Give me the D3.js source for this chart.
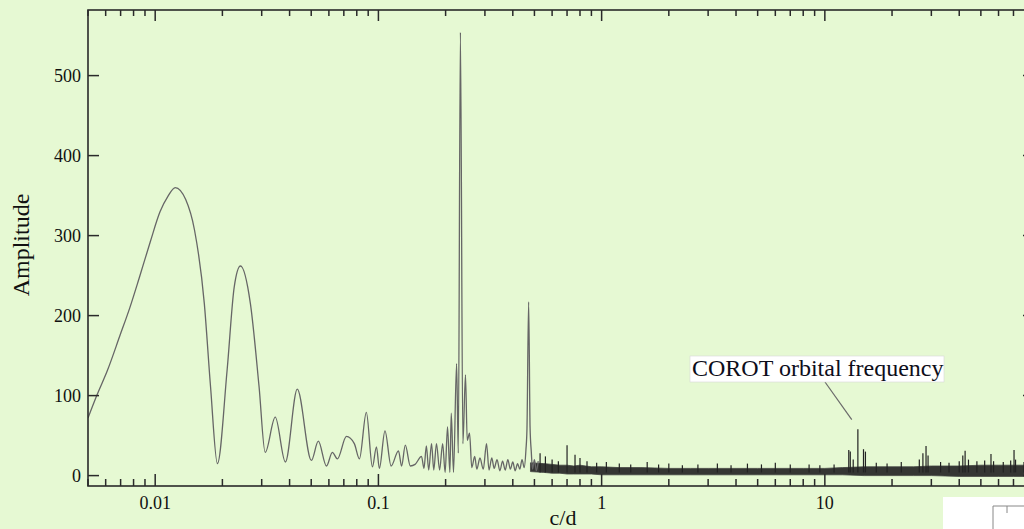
<!DOCTYPE html>
<html>
<head>
<meta charset="utf-8">
<script src="https://cdn.jsdelivr.net/npm/d3@7"></script>
<style>
html, body { margin: 0; padding: 0; background: #e6f9d3; overflow: hidden; }
svg { display: block; font-family: "Liberation Serif", "Times New Roman", serif; }
</style>
</head>
<body>
<svg id="chart" width="1024" height="529"></svg>
<script>
// smooth part of the periodogram (c/d, amplitude)
const lineFreq = [0.005, 0.00549, 0.0061, 0.00697, 0.0077, 0.00848, 0.0095, 0.01052, 0.0114, 0.0123,
  0.0137, 0.0150, 0.0166, 0.0177, 0.0190, 0.0210,
  0.0226, 0.0241, 0.0267, 0.0292, 0.0311, 0.0345, 0.0383, 0.0433, 0.0501, 0.0538,
  0.0585, 0.0622, 0.0655, 0.0719, 0.0780, 0.0822, 0.0883, 0.094, 0.098, 0.101,
  0.107, 0.114, 0.123, 0.127, 0.132, 0.139, 0.146, 0.156, 0.160, 0.164,
  0.168, 0.173, 0.177, 0.182, 0.188, 0.194, 0.199, 0.204, 0.209, 0.212,
  0.217, 0.224, 0.228, 0.233, 0.239, 0.2455, 0.250, 0.256, 0.262, 0.270,
  0.276, 0.285, 0.295, 0.305, 0.313, 0.322, 0.330, 0.340, 0.350, 0.360,
  0.370, 0.380, 0.390, 0.400, 0.410, 0.420, 0.430, 0.440, 0.450, 0.458,
  0.463, 0.471, 0.478, 0.484, 0.490, 0.500, 0.510, 0.520];
const lineAmp = [72, 101, 131, 176, 210, 247, 292, 330, 349, 360,
  345, 307, 215, 111, 15, 132,
  236, 262, 215, 111, 29, 73, 17, 108, 19, 43,
  12, 29, 21, 49, 40, 21, 79, 11, 36, 9,
  56, 12, 31, 12, 38, 12, 14, 24, 9, 37,
  7, 40, 7, 40, 7, 40, 4, 61, 4, 78,
  4, 140, 28, 554, 40, 126, 44, 53, 10, 24,
  8, 22, 8, 40, 7, 22, 9, 20, 6, 18,
  7, 20, 8, 17, 6, 15, 8, 20, 10, 32,
  59, 217, 60, 30, 8, 20, 6, 18];

// dense noise band at high frequency: lower and upper edge
const noiseFreq = [0.48, 0.55, 0.6, 0.65, 0.7, 0.75, 0.8, 0.9, 1.0, 1.2, 1.5, 2, 2.5, 3, 4,
  5, 6, 8, 10, 12, 15, 20, 25, 30, 40, 50, 60, 70, 86.5];
const noiseHi = [16, 15, 14, 13, 13, 12, 13, 11, 11, 10, 10, 9, 9, 9, 9,
  9, 9, 9, 9, 10, 11, 11, 11, 12, 12, 13, 13, 13, 13];
const noiseLo = [5, 4, 3, 3, 2, 2, 2, 2, 1, 1, 1, 1, 1, 1, 1,
  1, 1, 1, 1, 1, 0, 0, 0, 0, -1, -1, -1, -1, -1];

// single spikes sticking out of the band
const spikeFreq = [0.53, 0.56, 0.6, 0.64, 0.70, 0.76, 0.80, 0.86, 0.95, 1.05, 1.2, 1.35, 1.6, 1.8,
  2.0, 2.3, 2.7, 3.3, 3.8, 4.5, 5.2, 6.0, 7.0, 8.5, 9.5, 11, 12.8, 13.0, 13.4, 14.06,
  14.9, 15.2, 17, 19, 22, 26.5, 27.5, 28.4, 29, 33, 36, 40, 41.5, 42.5, 44, 48,
  52, 55.5, 57, 63, 68, 70.4, 71.5, 78, 84];
const spikeAmp = [28, 24, 20, 18, 38, 26, 22, 18, 16, 17, 15, 14, 17, 14,
  15, 13, 14, 15, 13, 15, 14, 16, 14, 14, 13, 14, 32, 30, 20, 58,
  33, 30, 16, 15, 17, 20, 28, 37, 25, 17, 16, 18, 25, 31, 20, 18,
  19, 27, 18, 17, 19, 32, 20, 17, 18];

const yTickValues = [0, 100, 200, 300, 400, 500];
const xTickValues = [0.01, 0.1, 1, 10];
const xTickLabels = ["0.01", "0.1", "1", "10"];

const svg = d3.select("#chart");
const plotLeft = 88, plotRight = 1034, plotTop = 10, plotBottom = 486;

const x = d3.scaleLog().domain([0.005, 86.5]).range([plotLeft, plotRight]);
const y = d3.scaleLinear().domain([-13, 582]).range([plotBottom, plotTop]);

svg.append("rect").attr("width", 1024).attr("height", 529).attr("fill", "#e6f9d3");

svg.append("clipPath").attr("id", "plot-clip")
  .append("rect").attr("x", plotLeft).attr("y", plotTop)
  .attr("width", plotRight - plotLeft).attr("height", plotBottom - plotTop);

const plot = svg.append("g").attr("clip-path", "url(#plot-clip)");

// noise band
const band = d3.area()
  .x((d, i) => x(noiseFreq[i]))
  .y0((d, i) => y(noiseLo[i]))
  .y1((d, i) => y(noiseHi[i]));
plot.append("path")
  .attr("d", band(noiseFreq))
  .attr("fill", "#262626")
  .attr("stroke", "#333")
  .attr("stroke-width", 0.8)
  .attr("opacity", 0.92);

// spikes
plot.selectAll("line.spike")
  .data(spikeFreq)
  .enter().append("line")
  .attr("class", "spike")
  .attr("x1", d => x(d)).attr("x2", d => x(d))
  .attr("y1", y(4))
  .attr("y2", (d, i) => y(spikeAmp[i]))
  .attr("stroke", "#222")
  .attr("stroke-width", 1.2);

// smooth curve
const line = d3.line()
  .x((d, i) => x(lineFreq[i]))
  .y((d, i) => y(lineAmp[i]))
  .curve(d3.curveMonotoneX);
plot.append("path")
  .attr("d", line(lineFreq))
  .attr("fill", "none")
  .attr("stroke", "#666")
  .attr("stroke-width", 1.3);

// frame
svg.append("rect")
  .attr("x", plotLeft).attr("y", plotTop)
  .attr("width", plotRight - plotLeft).attr("height", plotBottom - plotTop)
  .attr("fill", "none").attr("stroke", "#2a2a2a").attr("stroke-width", 1.6);

// x ticks, bottom and top, pointing inward
const isMajor = t => Math.abs(Math.log10(t) - Math.round(Math.log10(t))) < 1e-6;
const xt = x.ticks().filter(t => t >= 0.005 && t <= 86.5);
const ticks = svg.append("g").attr("stroke", "#2a2a2a").attr("stroke-width", 1.5);
xt.forEach(t => {
  const len = isMajor(t) ? 12 : 7;
  ticks.append("line").attr("x1", x(t)).attr("x2", x(t)).attr("y1", plotBottom).attr("y2", plotBottom - len);
  ticks.append("line").attr("x1", x(t)).attr("x2", x(t)).attr("y1", plotTop).attr("y2", plotTop + (isMajor(t) ? 11 : 6));
});
yTickValues.forEach(v => {
  ticks.append("line").attr("x1", plotLeft).attr("x2", plotLeft + 11).attr("y1", y(v)).attr("y2", y(v));
  ticks.append("line").attr("x1", plotRight).attr("x2", plotRight - 11).attr("y1", y(v)).attr("y2", y(v));
});

// tick labels
svg.append("g").selectAll("text")
  .data(xTickValues)
  .enter().append("text")
  .attr("x", d => x(d)).attr("y", 509)
  .attr("text-anchor", "middle")
  .attr("font-size", 18).attr("fill", "#111")
  .text((d, i) => xTickLabels[i]);

svg.append("g").selectAll("text")
  .data(yTickValues)
  .enter().append("text")
  .attr("x", 81).attr("y", d => y(d) + 6)
  .attr("text-anchor", "end")
  .attr("font-size", 18).attr("fill", "#111")
  .text(d => d);

// axis titles
svg.append("text")
  .attr("transform", "translate(29,245) rotate(-90)")
  .attr("text-anchor", "middle")
  .attr("font-size", 24).attr("fill", "#111")
  .text("Amplitude");

svg.append("text")
  .attr("x", 563).attr("y", 525)
  .attr("text-anchor", "middle")
  .attr("font-size", 22).attr("fill", "#111")
  .text("c/d");

// annotation
svg.append("line")
  .attr("x1", 825).attr("y1", 382)
  .attr("x2", x(13.2)).attr("y2", y(70))
  .attr("stroke", "#6a6a6a").attr("stroke-width", 1.2);
svg.append("rect")
  .attr("x", 690).attr("y", 356).attr("width", 254).attr("height", 26)
  .attr("fill", "#fff").attr("stroke", "#d8d8d8").attr("stroke-width", 0.6);
svg.append("text")
  .attr("x", 692).attr("y", 376)
  .attr("font-size", 24).attr("fill", "#0d0d1a")
  .text("COROT orbital frequency");

// corner of an overlapping window, bottom right
svg.append("rect").attr("x", 943).attr("y", 497).attr("width", 81).attr("height", 32).attr("fill", "#fff");
svg.append("path").attr("d", "M993,529V506H1024M1007,506V513")
  .attr("fill", "none").attr("stroke", "#888").attr("stroke-width", 1);
</script>
</body>
</html>
